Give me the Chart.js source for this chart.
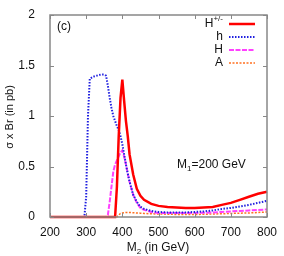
<!DOCTYPE html>
<html>
<head>
<meta charset="utf-8">
<script src="https://cdn.jsdelivr.net/npm/chart.js@4"></script>
<style>
  html, body { margin: 0; padding: 0; background: #fff; }
  #wrap { width: 284px; height: 256px; }
</style>
</head>
<body>
<div id="wrap"><canvas id="c" width="284" height="256"></canvas></div>
<script>
// M2 values (GeV)
const mass = [200, 250, 290, 295, 300, 305, 310, 320, 330, 340, 350, 355, 360, 365, 370, 375, 380, 385, 390, 395,
  400, 405, 410, 415, 420, 430, 440, 450, 460, 480, 500, 525, 550, 575, 600, 625, 650, 675, 700, 725, 750, 775, 800];

const chargedH = [0, 0, 0, 0, 0, 0, 0, 0, 0, 0, 0, 0, 0, 0, 0, 0, 0, 0.3, 0.8, 1.18,
  1.36, 1.15, 0.95, 0.8, 0.62, 0.42, 0.28, 0.21, 0.17, 0.13, 0.11, 0.1, 0.095, 0.09, 0.09, 0.095, 0.1, 0.12, 0.14, 0.17, 0.2, 0.23, 0.25];

const lightH = [0, 0, 0, 0, 0.2, 1.0, 1.37, 1.39, 1.4, 1.41, 1.41, 1.4, 1.3, 1.18, 1.08, 1.0, 0.95, 0.9, 0.86, 0.8,
  0.72, 0.62, 0.52, 0.43, 0.35, 0.22, 0.15, 0.1, 0.08, 0.06, 0.05, 0.045, 0.045, 0.045, 0.05, 0.055, 0.065, 0.08, 0.09, 0.105, 0.12, 0.14, 0.16];

const heavyH = [0, 0, 0, 0, 0, 0, 0, 0, 0, 0, 0, 0, 0.02, 0.15, 0.3, 0.45, 0.52, 0.56, 0.6, 0.64,
  0.66, 0.6, 0.52, 0.43, 0.35, 0.22, 0.14, 0.09, 0.07, 0.05, 0.04, 0.04, 0.04, 0.04, 0.04, 0.042, 0.045, 0.05, 0.055, 0.06, 0.065, 0.07, 0.075];

const pseudoA = [0, 0, 0, 0, 0, 0, 0, 0, 0, 0, 0, 0, 0, 0, 0, 0, 0, 0, 0.02, 0.035,
  0.04, 0.042, 0.045, 0.045, 0.045, 0.042, 0.04, 0.038, 0.035, 0.032, 0.03, 0.028, 0.025, 0.025, 0.025, 0.027, 0.03, 0.032, 0.035, 0.038, 0.04, 0.045, 0.05];

const xTicks = [200, 300, 400, 500, 600, 700, 800];
const yTicks = [0, 0.5, 1, 1.5, 2];

const FONT = "'Liberation Sans', Arial, sans-serif";

function pts(vals) {
  return mass.map((m, i) => ({ x: m, y: vals[i] }));
}

const series = [
  { label: 'H', sup: '+/-', data: chargedH, color: '#ff0000', width: 2.5, dash: [] },
  { label: 'h', sup: '', data: lightH, color: '#2020e0', width: 2, dash: [1.5, 1.5] },
  { label: 'H', sup: '', data: heavyH, color: '#ff40ff', width: 2, dash: [5, 1.5] },
  { label: 'A', sup: '', data: pseudoA, color: '#ff7020', width: 1.5, dash: [2, 1.5] }
];

const decor = {
  id: 'decor',
  afterDraw(chart) {
    const ctx = chart.ctx;
    const a = chart.chartArea;
    const xs = chart.scales.x, ys = chart.scales.y;
    ctx.save();
    // frame
    ctx.strokeStyle = '#888';
    ctx.lineWidth = 1.5;
    ctx.strokeRect(a.left, a.top, a.right - a.left, a.bottom - a.top);
    // inward ticks on all sides
    ctx.lineWidth = 1;
    ctx.beginPath();
    xTicks.forEach(v => {
      const px = Math.round(xs.getPixelForValue(v)) + 0.5;
      ctx.moveTo(px, a.bottom); ctx.lineTo(px, a.bottom - 4);
      ctx.moveTo(px, a.top); ctx.lineTo(px, a.top + 4);
    });
    yTicks.forEach(v => {
      const py = Math.round(ys.getPixelForValue(v)) + 0.5;
      ctx.moveTo(a.left, py); ctx.lineTo(a.left + 4, py);
      ctx.moveTo(a.right, py); ctx.lineTo(a.right - 4, py);
    });
    ctx.stroke();

    ctx.fillStyle = '#111';
    ctx.textBaseline = 'middle';
    // (c)
    ctx.font = '12px ' + FONT;
    ctx.textAlign = 'left';
    ctx.fillText('(c)', 57, 27);

    // M1=200 GeV
    let x0 = 177, y0 = 165;
    ctx.fillText('M', x0, y0);
    x0 += ctx.measureText('M').width;
    ctx.font = '8px ' + FONT;
    ctx.fillText('1', x0, y0 + 4);
    x0 += ctx.measureText('1').width;
    ctx.font = '12px ' + FONT;
    ctx.fillText('=200 GeV', x0, y0);

    // x axis title
    const t1 = 'M', t2 = '2', t3 = ' (in GeV)';
    ctx.font = '12px ' + FONT;
    const w1 = ctx.measureText(t1).width, w3 = ctx.measureText(t3).width;
    ctx.font = '8px ' + FONT;
    const w2 = ctx.measureText(t2).width;
    let xt = 158 - (w1 + w2 + w3) / 2;
    const yt = 248;
    ctx.font = '12px ' + FONT;
    ctx.fillText(t1, xt, yt); xt += w1;
    ctx.font = '8px ' + FONT;
    ctx.fillText(t2, xt, yt + 4); xt += w2;
    ctx.font = '12px ' + FONT;
    ctx.fillText(t3, xt, yt);

    // y axis title
    ctx.save();
    ctx.translate(10, 117);
    ctx.rotate(-Math.PI / 2);
    ctx.textAlign = 'center';
    ctx.font = '11px ' + FONT;
    ctx.fillText('\u03c3 x Br (in pb)', 0, 0);
    ctx.restore();

    // legend
    series.forEach((s, i) => {
      const ly = 24 + i * 13;
      ctx.font = '12px ' + FONT;
      const wl = ctx.measureText(s.label).width;
      ctx.font = '8px ' + FONT;
      const ws = s.sup ? ctx.measureText(s.sup).width : 0;
      const lx = 223 - wl - ws;
      ctx.textAlign = 'left';
      ctx.font = '12px ' + FONT;
      ctx.fillText(s.label, lx, ly);
      if (s.sup) {
        ctx.font = '8px ' + FONT;
        ctx.fillText(s.sup, lx + wl, ly - 5);
      }
      ctx.strokeStyle = s.color;
      ctx.lineWidth = s.width;
      ctx.setLineDash(s.dash);
      ctx.beginPath();
      ctx.moveTo(229, ly); ctx.lineTo(255, ly);
      ctx.stroke();
      ctx.setLineDash([]);
    });
    ctx.restore();
  }
};

new Chart(document.getElementById('c'), {
  type: 'line',
  data: {
    datasets: series.map(s => ({
      label: s.label + s.sup,
      data: pts(s.data),
      borderColor: s.color,
      borderWidth: s.width,
      borderDash: s.dash,
      pointRadius: 0,
      tension: 0,
      fill: false,
      clip: 4
    }))
  },
  options: {
    responsive: false,
    animation: false,
    layout: { padding: { top: 15, right: 17, left: 0, bottom: 0 } },
    plugins: { legend: { display: false }, tooltip: { enabled: false } },
    scales: {
      x: {
        type: 'linear',
        min: 200, max: 800,
        afterFit: s => { s.height = 39; },
        afterBuildTicks: s => { s.ticks = xTicks.map(v => ({ value: v })); },
        grid: { display: false },
        border: { display: false },
        ticks: { color: '#111', font: { family: FONT, size: 12 }, padding: 0, maxRotation: 0,
          callback: v => String(v) }
      },
      y: {
        min: 0, max: 2,
        afterFit: s => { s.width = 50; },
        afterBuildTicks: s => { s.ticks = yTicks.map(v => ({ value: v })); },
        grid: { display: false },
        border: { display: false },
        ticks: { color: '#111', font: { family: FONT, size: 12 }, padding: 7,
          callback: v => String(v) }
      }
    }
  },
  plugins: [decor]
});
</script>
</body>
</html>
